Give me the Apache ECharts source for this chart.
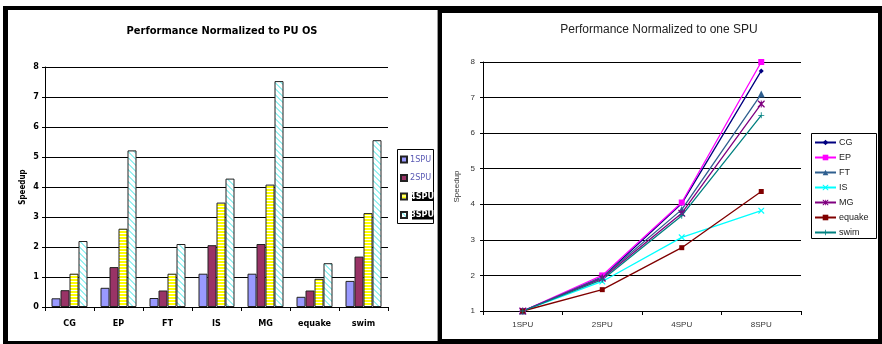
<!DOCTYPE html>
<html>
<head>
<meta charset="utf-8">
<style>
  html, body { margin: 0; padding: 0; background: #fff; }
  #wrap { position: relative; width: 882px; height: 344px; overflow: hidden; }
  .frame { position: absolute; background: #000; }
  .panel { position: absolute; background: #fff; }
  #chart { position: absolute; left: 0; top: 0; width: 882px; height: 344px; }
</style>
<script src="https://cdn.jsdelivr.net/npm/echarts@6/dist/echarts.min.js"></script>
</head>
<body>
<div id="wrap">
  <div class="frame" style="left:3px;top:6px;width:879px;height:338px;"></div>
  <div class="panel" style="left:8px;top:10px;width:429px;height:331px;border-right:1px solid #999;"></div>
  <div class="panel" style="left:442px;top:13px;width:436px;height:326px;"></div>
  <div id="chart"></div>
</div>
<script>
// Benchmarks and SPU configurations
const benchmarks = ['CG', 'EP', 'FT', 'IS', 'MG', 'equake', 'swim'];
const spuConfigs = ['1SPU', '2SPU', '4SPU', '8SPU'];
const yTicksLeft = [0, 8, 1];
const yTicksRight = [1, 8, 1];

// Speedup relative to the PPU OS baseline
const speedup1SPU = [0.29, 0.64, 0.30, 1.11, 1.11, 0.34, 0.87];
const speedup2SPU = [0.56, 1.33, 0.55, 2.06, 2.10, 0.55, 1.68];
const speedup4SPU = [1.11, 2.61, 1.11, 3.48, 4.08, 0.94, 3.13];
const speedup8SPU = [2.20, 5.22, 2.10, 4.28, 7.53, 1.46, 5.56];

// Speedup relative to a single SPU
const scaleCG     = [1, 1.95, 4.02, 7.75];
const scaleEP     = [1, 2.00, 4.05, 8.00];
const scaleFT     = [1, 1.95, 3.85, 7.10];
const scaleIS     = [1, 1.83, 3.07, 3.82];
const scaleMG     = [1, 1.92, 3.75, 6.82];
const scaleEquake = [1, 1.60, 2.78, 4.36];
const scaleSwim   = [1, 1.88, 3.68, 6.50];

// Fill patterns for the striped bars
function stripePattern() {
  const c = document.createElement('canvas');
  c.width = 4; c.height = 3;
  const g = c.getContext('2d');
  g.fillStyle = '#ffff00'; g.fillRect(0, 0, 4, 3);
  g.fillStyle = '#ffffff'; g.fillRect(0, 2, 4, 1);
  return c;
}
function hatchPattern() {
  const c = document.createElement('canvas');
  c.width = 6; c.height = 6;
  const g = c.getContext('2d');
  g.fillStyle = '#ffffff'; g.fillRect(0, 0, 6, 6);
  g.fillStyle = '#99f2f2';
  for (let y = 0; y < 6; y++) {
    for (let x = 0; x < 6; x++) {
      const d = ((x - y) % 6 + 6) % 6;
      if (d < 2) g.fillRect(x, y, 1, 1);
    }
  }
  return c;
}

const boldFont = '"DejaVu Sans Condensed", "DejaVu Sans", sans-serif';
const plainFont = '"Liberation Sans", Arial, sans-serif';

const barStyle = (fill) => ({ color: fill, borderColor: '#222', borderWidth: 1 });

const crossPath = 'path://M0,0 L1.4,0 L5,3.6 L8.6,0 L10,0 L10,1.4 L6.4,5 L10,8.6 L10,10 L8.6,10 L5,6.4 L1.4,10 L0,10 L0,8.6 L3.6,5 L0,1.4 Z';
const plusPath = 'path://M4.3,0 H5.7 V4.3 H10 V5.7 H5.7 V10 H4.3 V5.7 H0 V4.3 H4.3 Z';
const starPath = 'path://M0,0 L1.4,0 L5,3.6 L8.6,0 L10,0 L10,1.4 L6.4,5 L10,8.6 L10,10 L8.6,10 L5,6.4 L1.4,10 L0,10 L0,8.6 L3.6,5 L0,1.4 Z M4.3,0 H5.7 V10 H4.3 Z';

function lineSeries(name, data, color, symbol, size) {
  return {
    name, type: 'line', xAxisIndex: 1, yAxisIndex: 1, data,
    symbol, symbolSize: size, showSymbol: true,
    lineStyle: { color, width: 1.3 },
    itemStyle: { color, borderWidth: 0 },
    emphasis: { disabled: true },
    animation: false
  };
}

const chart = echarts.init(document.getElementById('chart'), null, { renderer: 'canvas' });

const option = {
  animation: false,
  graphic: [
    { type: 'text', x: 222, y: 31, style: { text: 'Performance Normalized to PU OS', font: 'bold 11px ' + boldFont, fill: '#000', align: 'center', verticalAlign: 'middle' } },
    { type: 'text', x: 659, y: 30, style: { text: 'Performance Normalized to one SPU', font: '12px ' + plainFont, fill: '#222', align: 'center', verticalAlign: 'middle' } },
    { type: 'rect', shape: { x: 397.5, y: 149.5, width: 36, height: 74 }, style: { fill: 'none', stroke: '#000', lineWidth: 1 } },
    { type: 'rect', shape: { x: 811.5, y: 133.5, width: 65, height: 105 }, style: { fill: 'none', stroke: '#000', lineWidth: 1 } }
  ],
  grid: [
    { left: 45, top: 67, width: 343, height: 240, containLabel: false },
    { left: 483, top: 62, width: 318, height: 249, containLabel: false }
  ],
  legend: [
    {
      orient: 'vertical', left: 400, top: 155, padding: 0, itemGap: 9.5,
      itemWidth: 6, itemHeight: 6, icon: 'rect', selectedMode: false,
      textStyle: { fontSize: 9, fontFamily: boldFont, color: '#5a5ab4', padding: [0, 0, 0, -2] },
      data: [
        { name: '1SPU' },
        { name: '2SPU' },
        { name: '4SPU', textStyle: { color: '#fff', backgroundColor: '#000', fontWeight: 'bold' } },
        { name: '8SPU', textStyle: { color: '#fff', backgroundColor: '#000', fontWeight: 'bold' } }
      ]
    },
    {
      orient: 'vertical', left: 814, top: 137, padding: 0, itemGap: 4,
      itemWidth: 21, itemHeight: 7, selectedMode: false,
      textStyle: { fontSize: 9, fontFamily: plainFont, color: '#222', padding: [0, 0, 0, -2], lineHeight: 11 },
      data: benchmarks
    }
  ],
  xAxis: [
    {
      type: 'category', gridIndex: 0, data: benchmarks, boundaryGap: true,
      axisLine: { lineStyle: { color: '#000', width: 1 } },
      axisTick: { show: true, length: 4, lineStyle: { color: '#000' } },
      axisLabel: { fontSize: 9, fontWeight: 'bold', fontFamily: boldFont, color: '#000', margin: 12 }
    },
    {
      type: 'category', gridIndex: 1, data: spuConfigs, boundaryGap: true,
      axisLine: { lineStyle: { color: '#000', width: 1 } },
      axisTick: { show: true, length: 4, lineStyle: { color: '#000' } },
      axisLabel: { fontSize: 8, fontFamily: plainFont, color: '#333', margin: 10 }
    }
  ],
  yAxis: [
    {
      type: 'value', gridIndex: 0, min: yTicksLeft[0], max: yTicksLeft[1], interval: yTicksLeft[2],
      name: 'Speedup', nameLocation: 'middle', nameGap: 18, nameRotate: 90,
      nameTextStyle: { fontSize: 8, fontWeight: 'bold', fontFamily: boldFont, color: '#000' },
      axisLine: { show: true, lineStyle: { color: '#000', width: 1 } },
      axisTick: { show: true, length: 3, lineStyle: { color: '#000' } },
      axisLabel: { fontSize: 9, fontWeight: 'bold', fontFamily: boldFont, color: '#000', margin: 6 },
      splitLine: { show: true, lineStyle: { color: '#000', width: 1 } }
    },
    {
      type: 'value', gridIndex: 1, min: yTicksRight[0], max: yTicksRight[1], interval: yTicksRight[2],
      name: 'Speedup', nameLocation: 'middle', nameGap: 22, nameRotate: 90,
      nameTextStyle: { fontSize: 8, fontFamily: plainFont, color: '#333' },
      axisLine: { show: true, lineStyle: { color: '#000', width: 1 } },
      axisTick: { show: true, length: 3, lineStyle: { color: '#000' } },
      axisLabel: { fontSize: 8, fontFamily: plainFont, color: '#333', margin: 8 },
      splitLine: { show: true, lineStyle: { color: '#000', width: 1 } }
    }
  ],
  series: [
    { name: '1SPU', type: 'bar', xAxisIndex: 0, yAxisIndex: 0, data: speedup1SPU, barWidth: 9, barGap: '0%', itemStyle: barStyle('#9999ff') },
    { name: '2SPU', type: 'bar', xAxisIndex: 0, yAxisIndex: 0, data: speedup2SPU, barWidth: 9, barGap: '0%', itemStyle: barStyle('#993366') },
    { name: '4SPU', type: 'bar', xAxisIndex: 0, yAxisIndex: 0, data: speedup4SPU, barWidth: 9, barGap: '0%', itemStyle: barStyle({ image: stripePattern(), repeat: 'repeat' }) },
    { name: '8SPU', type: 'bar', xAxisIndex: 0, yAxisIndex: 0, data: speedup8SPU, barWidth: 9, barGap: '0%', itemStyle: barStyle({ image: hatchPattern(), repeat: 'repeat' }) },
    lineSeries('CG', scaleCG, '#000080', 'diamond', 5),
    lineSeries('EP', scaleEP, '#ff00ff', 'rect', 6),
    lineSeries('FT', scaleFT, '#2f5f8f', 'triangle', 7),
    lineSeries('IS', scaleIS, '#00ffff', crossPath, 6),
    lineSeries('MG', scaleMG, '#800080', starPath, 7),
    lineSeries('equake', scaleEquake, '#800000', 'rect', 5),
    lineSeries('swim', scaleSwim, '#008080', plusPath, 6)
  ]
};
chart.setOption(option);
</script>
</body>
</html>
